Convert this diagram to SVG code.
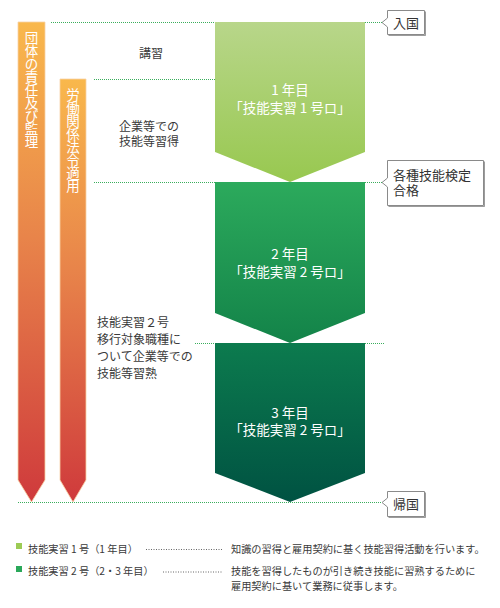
<svg xmlns="http://www.w3.org/2000/svg" width="500" height="608" viewBox="0 0 500 608">
<defs>
<linearGradient id="gOrange" x1="0" y1="0" x2="0" y2="1">
<stop offset="0" stop-color="#f9b84c"/>
<stop offset="0.45" stop-color="#e8844a"/>
<stop offset="1" stop-color="#cf3a3c"/>
</linearGradient>
<linearGradient id="g1" x1="0" y1="0" x2="0" y2="1">
<stop offset="0" stop-color="#b8d68a"/>
<stop offset="1" stop-color="#98c850"/>
</linearGradient>
<linearGradient id="g2" x1="0" y1="0" x2="0" y2="1">
<stop offset="0" stop-color="#2caa5c"/>
<stop offset="1" stop-color="#138349"/>
</linearGradient>
<linearGradient id="g3" x1="0" y1="0" x2="0" y2="1">
<stop offset="0" stop-color="#0c7b4e"/>
<stop offset="1" stop-color="#005242"/>
</linearGradient>
<style>
text{font-family:"Noto Sans CJK JP","Noto Sans",sans-serif;}
.dot{stroke:#3aae5c;stroke-width:1;stroke-dasharray:1 1;fill:none;}
.lead{stroke:#666;stroke-width:1;stroke-dasharray:1 1.5;fill:none;}
.bar{fill:url(#gOrange);stroke:#f8d2a6;stroke-width:0.8;}
.vt{fill:#fff;font-size:13.5px;text-anchor:middle;}
.bt{fill:#fff;font-size:13.5px;text-anchor:middle;}
.lbl{fill:#3a3a3a;font-size:12px;}
.tag{fill:#fff;stroke:#8a8a8a;stroke-width:1;}
.tagsh{fill:none;stroke:#5a5a5a;stroke-width:1;opacity:0.6;}
.tagt{fill:#333;font-size:13px;}
.leg{fill:#3a3a3a;font-size:10.2px;}
</style>
</defs>
<rect width="500" height="608" fill="#fff"/>

<g id="connectors">
<line class="dot" x1="51" y1="22.5" x2="215" y2="22.5"/>
<line class="dot" x1="365" y1="22.5" x2="382" y2="22.5"/>
<line class="dot" x1="94" y1="79.5" x2="215" y2="79.5"/>
<line class="dot" x1="94" y1="182.5" x2="215" y2="182.5"/>
<line class="dot" x1="365" y1="182.5" x2="382" y2="182.5"/>
<line class="dot" x1="195" y1="343.5" x2="215" y2="343.5"/>
<line class="dot" x1="365" y1="343.5" x2="385" y2="343.5"/>
<line class="dot" x1="18" y1="502.5" x2="382" y2="502.5"/>
</g>

<g id="bar-dantai">
<polygon class="bar" points="18,22 45,22 45,480 31.5,502 18,480"/>
<text class="vt" x="31.5 31.5 31.5 31.5 31.5 31.5 31.5 31.5 31.5" y="43 56 69 82 95 108 121 134 147">団体の責任及び監理</text>
</g>

<g id="bar-roudou">
<polygon class="bar" points="60,79 86,79 86,480 73,502 60,480"/>
<text class="vt" x="73 73 73 73 73 73 73 73" y="100 113 126 139 152 165 178 191">労働関係法令適用</text>
</g>

<g id="label-koushu">
<text class="lbl" x="151" y="57.5" text-anchor="middle">講習</text>
</g>
<g id="label-kigyou1">
<text class="lbl" x="119" y="131">企業等での</text>
<text class="lbl" x="119" y="146">技能等習得</text>
</g>
<g id="label-kigyou2">
<text class="lbl" x="97" y="326.5">技能実習２号</text>
<text class="lbl" x="97" y="343.5">移行対象職種に</text>
<text class="lbl" x="97" y="360.5">ついて企業等での</text>
<text class="lbl" x="97" y="377.5">技能等習熟</text>
</g>

<g id="year1">
<polygon fill="url(#g1)" points="215,22 365,22 365,152 290,182 215,152"/>
<text class="bt" x="290" y="95">1 年目</text>
<text class="bt" x="290" y="113">「技能実習 1 号ロ」</text>
</g>
<g id="year2">
<polygon fill="url(#g2)" points="215,182 365,182 365,313 290,343 215,313"/>
<text class="bt" x="290" y="259">2 年目</text>
<text class="bt" x="290" y="277">「技能実習 2 号ロ」</text>
</g>
<g id="year3">
<polygon fill="url(#g3)" points="215,343 365,343 365,473 290,502 215,473"/>
<text class="bt" x="290" y="418">3 年目</text>
<text class="bt" x="290" y="435">「技能実習 2 号ロ」</text>
</g>

<g id="tag-nyukoku">
<path class="tagsh" d="M425.5,11.5 V35.5 H388.5"/>
<path class="tag" d="M387.5,10.5 H424.5 V34.5 H387.5 V27 L382,22.5 L387.5,18 Z"/>
<text class="tagt" x="393" y="27.5">入国</text>
</g>
<g id="tag-kentei">
<path class="tagsh" d="M484.5,161.5 V206.5 H388.5"/>
<path class="tag" d="M387.5,160.5 H483.5 V205.5 H387.5 V187 L382,182.5 L387.5,178 Z"/>
<text class="tagt" x="393" y="179.5">各種技能検定</text>
<text class="tagt" x="393" y="195">合格</text>
</g>
<g id="tag-kikoku">
<path class="tagsh" d="M425.5,492.5 V517.5 H388.5"/>
<path class="tag" d="M387.5,491.5 H424.5 V516.5 H387.5 V507 L382,502.5 L387.5,498 Z"/>
<text class="tagt" x="393" y="508.5">帰国</text>
</g>

<g id="legend-1">
<rect x="16" y="543" width="6" height="6" fill="#9ccb55"/>
<text class="leg" x="28" y="552.5">技能実習 1 号（1 年目）</text>
<line class="lead" x1="146" y1="549.5" x2="222" y2="549.5"/>
<text class="leg" x="231" y="552.5">知識の習得と雇用契約に基く技能習得活動を行います。</text>
</g>
<g id="legend-2">
<rect x="16" y="566" width="6" height="6" fill="#2aa85a"/>
<text class="leg" x="28" y="575">技能実習 2 号（2・3 年目）</text>
<line class="lead" x1="163" y1="572" x2="222" y2="572"/>
<text class="leg" x="231" y="575">技能を習得したものが引き続き技能に習熟するために</text>
<text class="leg" x="231" y="589.5">雇用契約に基いて業務に従事します。</text>
</g>
</svg>
